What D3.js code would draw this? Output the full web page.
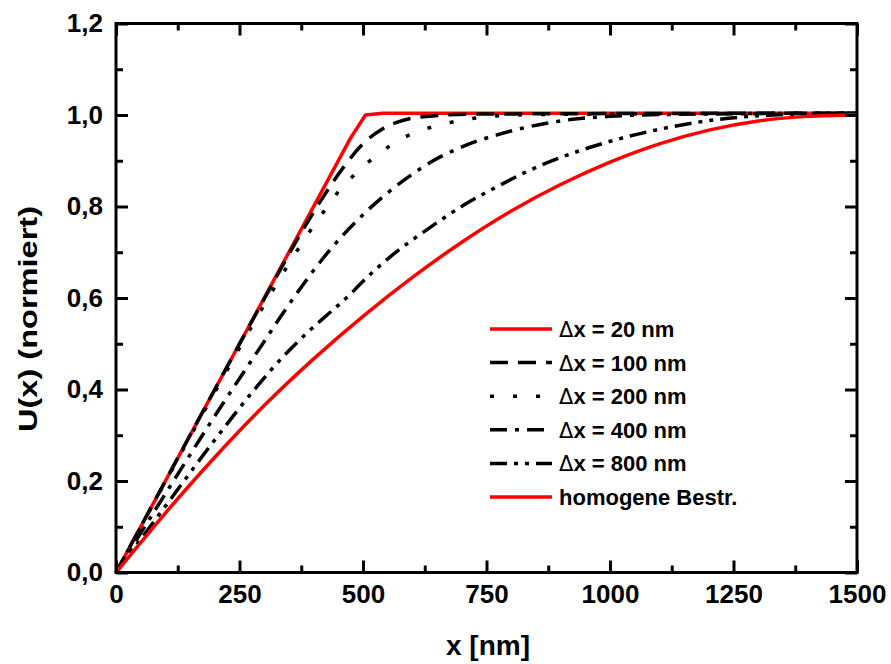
<!DOCTYPE html>
<html>
<head>
<meta charset="utf-8">
<script src="https://cdn.jsdelivr.net/npm/d3@7"></script>
<style>
  html, body { margin: 0; padding: 0; background: #fff; }
  svg { display: block; font-family: "Liberation Sans", Arial, sans-serif; }
</style>
</head>
<body>
<svg id="chart" width="891" height="664"></svg>
<script>
// Potential profiles U(x), normalised, for different step widths Δx
const seriesNames = ["Δx = 20 nm", "Δx = 100 nm", "Δx = 200 nm", "Δx = 400 nm", "Δx = 800 nm", "homogene Bestr."];

const dx20 = [[0,0],[475,0.95],[505,1.0],[540,1.004],[1500,1.004]];
const dx100 = [[0,0],[100,0.2],[200,0.4],[300,0.598],[380,0.752],[420,0.822],[460,0.885],[500,0.937],[540,0.97],[580,0.988],[640,0.998],[720,1.002],[1500,1.004]];
const dx200 = [[0,0],[100,0.198],[200,0.394],[300,0.585],[350,0.675],[390,0.742],[420,0.788],[450,0.832],[490,0.877],[538,0.92],[578,0.948],[620,0.967],[666,0.981],[706,0.99],[760,0.997],[850,1.001],[1500,1.004]];
const dx400 = [[0,0],[100,0.172],[200,0.342],[300,0.505],[340,0.57],[366,0.61],[420,0.688],[460,0.738],[500,0.782],[550,0.83],[595,0.867],[642,0.9],[683,0.922],[723,0.94],[770,0.956],[818,0.97],[872,0.982],[920,0.99],[1000,0.997],[1100,1.001],[1500,1.004]];
const dx800 = [[0,0],[100,0.145],[200,0.29],[288,0.41],[335,0.468],[386,0.523],[420,0.556],[474,0.608],[494,0.63],[555,0.69],[629,0.749],[710,0.807],[771,0.843],[831,0.876],[895,0.905],[986,0.938],[1101,0.969],[1216,0.99],[1330,1.0],[1420,1.003],[1500,1.004]];
const homogen = [[0,0],[100,0.13],[200,0.252],[300,0.365],[400,0.467],[500,0.56],[600,0.645],[700,0.722],[800,0.79],[900,0.848],[1000,0.897],[1100,0.937],[1200,0.967],[1300,0.987],[1400,0.997],[1500,1.0]];

const xMajorTicks = [0, 250, 500, 750, 1000, 1250, 1500];
const xMinorTicks = [125, 375, 625, 875, 1125, 1375];
const yMajorTicks = [0, 0.2, 0.4, 0.6, 0.8, 1.0, 1.2];
const yMinorTicks = [0.1, 0.3, 0.5, 0.7, 0.9, 1.1];

const xTitle = "x [nm]";
const yTitle = "U(x) (normiert)";

const seriesData = [dx20, dx100, dx200, dx400, dx800, homogen];
const seriesColor = ["#ff0000", "#000", "#000", "#000", "#000", "#ff0000"];
const seriesDash = [null, "18,10", "4,19", "17,8,4,8", "17,7,4,7,4,7", null];
const seriesCurve = [d3.curveLinear, d3.curveMonotoneX, d3.curveMonotoneX, d3.curveMonotoneX, d3.curveMonotoneX, d3.curveMonotoneX];

const svg = d3.select("#chart");
const plotLeft = 116, plotRight = 857, plotTop = 23.5, plotBottom = 572.5;

const x = d3.scaleLinear().domain([0, 1500]).range([plotLeft, plotRight]);
const y = d3.scaleLinear().domain([0, 1.2]).range([plotBottom, plotTop]);

const deFmt = d3.formatLocale({decimal: ",", thousands: ".", grouping: [3], currency: ["", " €"]});
const yFmt = deFmt.format(".1f");
const xFmt = d3.format("d");

// curves
const line = d3.line().x(d => x(d[0])).y(d => y(d[1]));
const plot = svg.append("g");
seriesData.forEach((data, i) => {
  plot.append("path")
    .datum(data)
    .attr("fill", "none")
    .attr("stroke", seriesColor[i])
    .attr("stroke-width", 3.5)
    .attr("stroke-dasharray", seriesDash[i])
    .attr("stroke-linejoin", "round")
    .attr("d", line.curve(seriesCurve[i]));
});

// axes with inward ticks on all four sides
const tickFont = g => g.selectAll("text")
  .attr("font-size", 26).attr("font-weight", "bold").attr("fill", "#000")
  .attr("font-family", "'Liberation Sans', Arial, sans-serif");
const tickStyle = g => { g.select(".domain").remove(); g.selectAll("line").attr("stroke", "#000").attr("stroke-width", 3); };

svg.append("g").attr("transform", `translate(0,${plotBottom})`)
  .call(d3.axisBottom(x).tickValues(xMajorTicks).tickSize(-12).tickPadding(12).tickFormat(xFmt))
  .call(tickStyle).call(tickFont);
svg.append("g").attr("transform", `translate(0,${plotBottom})`)
  .call(d3.axisBottom(x).tickValues(xMinorTicks).tickSize(-7).tickFormat(""))
  .call(tickStyle);
svg.append("g").attr("transform", `translate(0,${plotTop})`)
  .call(d3.axisTop(x).tickValues(xMajorTicks).tickSize(-12).tickFormat(""))
  .call(tickStyle);
svg.append("g").attr("transform", `translate(0,${plotTop})`)
  .call(d3.axisTop(x).tickValues(xMinorTicks).tickSize(-7).tickFormat(""))
  .call(tickStyle);

svg.append("g").attr("transform", `translate(${plotLeft},0)`)
  .call(d3.axisLeft(y).tickValues(yMajorTicks).tickSize(-12).tickPadding(13).tickFormat(yFmt))
  .call(tickStyle).call(tickFont);
svg.append("g").attr("transform", `translate(${plotLeft},0)`)
  .call(d3.axisLeft(y).tickValues(yMinorTicks).tickSize(-7).tickFormat(""))
  .call(tickStyle);
svg.append("g").attr("transform", `translate(${plotRight},0)`)
  .call(d3.axisRight(y).tickValues(yMajorTicks).tickSize(-12).tickFormat(""))
  .call(tickStyle);
svg.append("g").attr("transform", `translate(${plotRight},0)`)
  .call(d3.axisRight(y).tickValues(yMinorTicks).tickSize(-7).tickFormat(""))
  .call(tickStyle);

// frame
svg.append("rect")
  .attr("x", plotLeft).attr("y", plotTop)
  .attr("width", plotRight - plotLeft).attr("height", plotBottom - plotTop)
  .attr("fill", "none").attr("stroke", "#000").attr("stroke-width", 3);

// axis titles
svg.append("text")
  .attr("x", 488).attr("y", 655)
  .attr("text-anchor", "middle")
  .attr("font-size", 28).attr("font-weight", "bold")
  .text(xTitle);
svg.append("text")
  .attr("transform", `translate(37,319) rotate(-90)`)
  .attr("text-anchor", "middle")
  .attr("font-size", 26).attr("font-weight", "bold")
  .attr("textLength", 226).attr("lengthAdjust", "spacingAndGlyphs")
  .text(yTitle);

// legend
const legend = svg.append("g").attr("transform", "translate(490,329)");
seriesNames.forEach((name, i) => {
  const row = legend.append("g").attr("transform", `translate(0,${i * 33.6})`);
  row.append("line")
    .attr("x1", 0).attr("x2", 62).attr("y1", 0).attr("y2", 0)
    .attr("stroke", seriesColor[i]).attr("stroke-width", 3.5)
    .attr("stroke-dasharray", seriesDash[i]);
  const t = row.append("text")
    .attr("x", 69).attr("y", 0).attr("dy", "0.36em")
    .attr("font-size", 22).attr("font-weight", "bold");
  if (name.startsWith("Δ")) {
    t.append("tspan").attr("font-weight", "normal").attr("font-family", "'DejaVu Sans', sans-serif").attr("font-size", 21).text("Δ");
    t.append("tspan").text(name.slice(1));
  } else {
    t.text(name);
  }
});
</script>
</body>
</html>
